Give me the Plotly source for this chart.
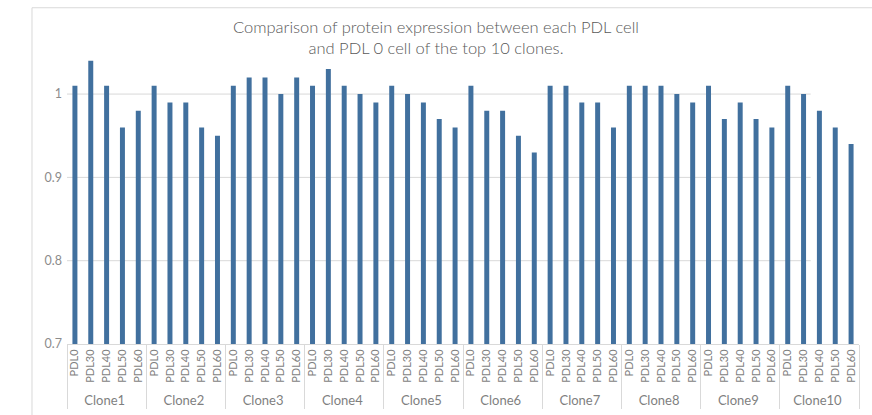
import plotly.graph_objects as go

clones = ["Clone1", "Clone2", "Clone3", "Clone4", "Clone5",
          "Clone6", "Clone7", "Clone8", "Clone9", "Clone10"]
pdls = ["PDL0", "PDL30", "PDL40", "PDL50", "PDL60"]
values = [
    [1.01, 1.04, 1.01, 0.96, 0.98],
    [1.01, 0.99, 0.99, 0.96, 0.95],
    [1.01, 1.02, 1.02, 1.00, 1.02],
    [1.01, 1.03, 1.01, 1.00, 0.99],
    [1.01, 1.00, 0.99, 0.97, 0.96],
    [1.01, 0.98, 0.98, 0.95, 0.93],
    [1.01, 1.01, 0.99, 0.99, 0.96],
    [1.01, 1.01, 1.01, 1.00, 0.99],
    [1.01, 0.97, 0.99, 0.97, 0.96],
    [1.01, 1.00, 0.98, 0.96, 0.94],
]
y_ticks = [0.7, 0.8, 0.9, 1.0]
y_ticktext = ["0.7", "0.8", "0.9", "1"]
title_text = "Comparison of protein expression between each PDL cell<br>and PDL 0 cell of the top 10 clones."

FONT = "Lato, Liberation Sans, Arial, sans-serif"

outer = [f"<span style='font-size:13px'>{c}</span>" for c in clones for _ in pdls]
inner = [p for _ in clones for p in pdls]
ys = [v for row in values for v in row]

fig = go.Figure(go.Bar(
    x=[outer, inner], y=ys,
    marker=dict(color="#41709e", line=dict(width=0)),
))

shapes = []
for t in y_ticks[1:]:
    shapes.append(dict(type="line", xref="paper", yref="y", x0=0, x1=0.939,
                       y0=t, y1=t, line=dict(color="#d9d9d9", width=1), layer="below"))
# outer chart border
shapes.append(dict(type="rect", xref="paper", yref="paper",
                   x0=-0.0442, x1=1.5, y0=-1.0, y1=1.136,
                   line=dict(color="#d9d9d9", width=1), layer="below"))

fig.update_layout(
    width=872, height=415,
    margin=dict(l=67, r=13, t=48, b=71, autoexpand=False),
    paper_bgcolor="white", plot_bgcolor="white",
    bargap=0.685,
    showlegend=False,
    shapes=shapes,
    annotations=[dict(text=title_text, xref="paper", yref="paper",
                      x=0.466, y=1.037, xanchor="center", yanchor="middle",
                      showarrow=False, align="center",
                      font=dict(family=FONT, size=16.5, color="#595959", weight=300))],
    xaxis=dict(type="multicategory", tickangle=-90, showgrid=False,
               showline=True, linecolor="#d9d9d9", linewidth=1,
               showdividers=True, dividercolor="#d9d9d9", dividerwidth=1,
               ticks="", tickfont=dict(family=FONT, size=11, color="#7f7f7f"),
               automargin=False),
    yaxis=dict(range=[0.7, 1.0553], tickvals=y_ticks, ticktext=y_ticktext,
               showgrid=False, zeroline=False, showline=False, ticks="", ticklen=0,
               ticklabelstandoff=4,
               tickfont=dict(family=FONT, size=12.5, color="#8c8c8c"),
               automargin=False),
)

fig.write_html("out.html", config={"displayModeBar": False},
               post_script="document.body.style.margin='0';")
